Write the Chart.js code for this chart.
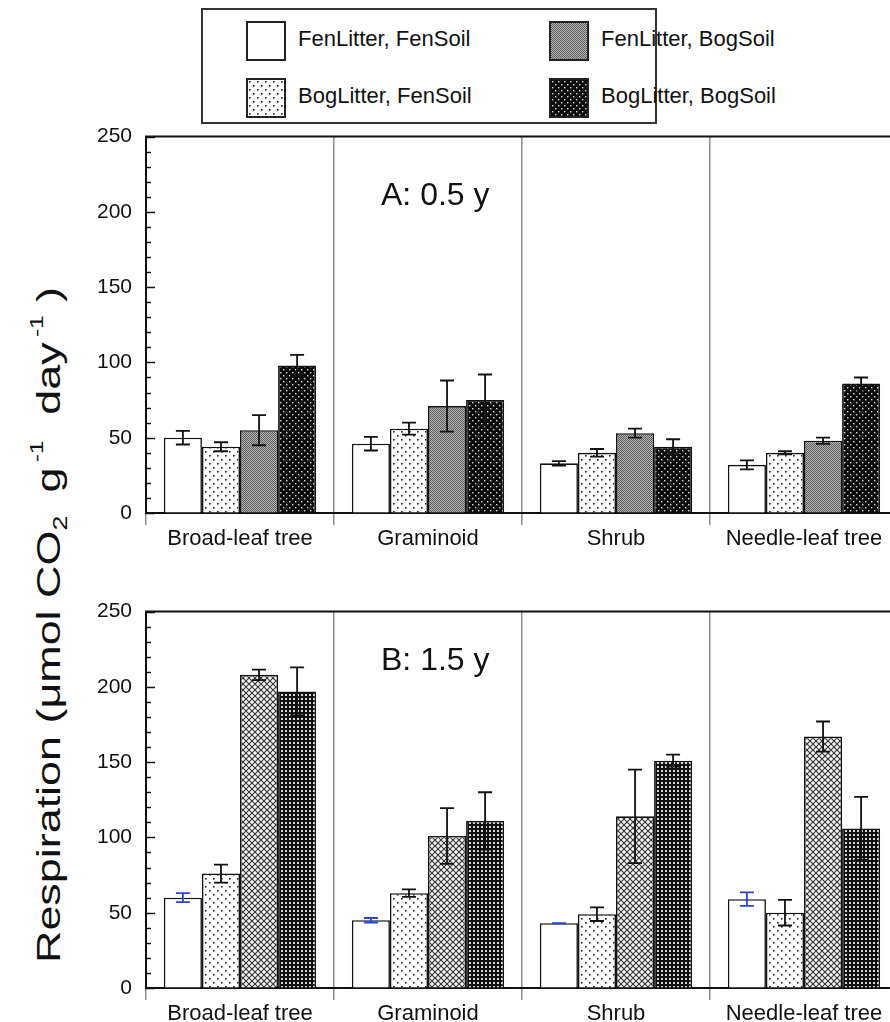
<!DOCTYPE html>
<html>
<head>
<meta charset="utf-8">
<script src="https://cdn.jsdelivr.net/npm/chart.js@4/dist/chart.umd.min.js"></script>
<style>
  html, body { margin: 0; padding: 0; width: 890px; height: 1022px; overflow: hidden; background: #fff; }
  body { position: relative; font-family: "Liberation Sans", Arial, sans-serif; color: #111; }
  canvas.panel { position: absolute; left: 0; }
  #leyenda { position: absolute; left: 201px; top: 8px; width: 452px; height: 112px; border: 2px solid #333; }
  .item { position: absolute; font-size: 22px; line-height: 36px; white-space: nowrap; }
  .item canvas { position: absolute; left: 0; top: 0; border: 2px solid #222; box-sizing: border-box; }
  .item span { position: absolute; left: 52px; top: 0; }
  #ytitle { position: absolute; left: 49px; top: 625px; transform: translate(-50%, -50%) rotate(-90deg) scaleX(1.32);
            white-space: nowrap; font-size: 34px; }
  #ytitle sup { font-size: 0.55em; vertical-align: 0.9em; margin-left: 4px; margin-right: 10px; }
  #ytitle sub { font-size: 0.6em; vertical-align: -0.35em; margin-right: 8px; }
</style>
</head>
<body>
<div id="leyenda"></div>
<div id="ytitle">Respiration (μmol CO<sub>2</sub> g<sup>-1</sup> day<sup>-1</sup>)</div>
<canvas id="panelA" class="panel" width="910" height="451" style="top:110px"></canvas>
<canvas id="panelB" class="panel" width="910" height="451" style="top:585px"></canvas>
<script>
// datos
const categorias = ["Broad-leaf tree", "Graminoid", "Shrub", "Needle-leaf tree"];
const series = ["FenLitter, FenSoil", "BogLitter, FenSoil", "FenLitter, BogSoil", "BogLitter, BogSoil"];
const ticksY = [0, 50, 100, 150, 200, 250];

// A: 0.5 y
const fenFenA = [50, 46, 33, 32];
const bogFenA = [44, 56, 40, 40];
const fenBogA = [55, 71, 53, 48];
const bogBogA = [98, 75, 44, 86];
const fenFenAErr = [4.5, 4.5, 1.5, 3];
const bogFenAErr = [3, 4, 2.5, 1];
const fenBogAErr = [10, 17, 3, 2];
const bogBogAErr = [7, 17, 5, 4];

// B: 1.5 y
const fenFenB = [60, 45, 43, 59];
const bogFenB = [76, 63, 49, 50];
const fenBogB = [208, 101, 114, 167];
const bogBogB = [197, 111, 151, 106];
const fenFenBErr = [3, 1.5, 0, 4.5];
const bogFenBErr = [6, 2.5, 4.5, 8.5];
const fenBogBErr = [3.5, 18.5, 31, 10];
const bogBogBErr = [16, 19, 4, 21];

Chart.defaults.font.family = '"Liberation Sans", Arial, sans-serif';
Chart.defaults.color = "#111";

// tramas de relleno
function trama(tipo) {
  const c = document.createElement("canvas");
  let ctx;
  if (tipo === "blanco") return "#ffffff";
  if (tipo === "puntos") {
    c.width = c.height = 8; ctx = c.getContext("2d");
    ctx.fillStyle = "#fff"; ctx.fillRect(0, 0, 8, 8);
    ctx.fillStyle = "#222"; ctx.fillRect(1, 1, 1.6, 1.6); ctx.fillRect(5, 5, 1.6, 1.6);
  } else if (tipo === "gris") {
    c.width = c.height = 2; ctx = c.getContext("2d");
    ctx.fillStyle = "#b8b8b8"; ctx.fillRect(0, 0, 2, 2);
    ctx.fillStyle = "#5a5a5a"; ctx.fillRect(0, 0, 1, 1); ctx.fillRect(1, 1, 1, 1);
  } else if (tipo === "negroPuntos") {
    c.width = c.height = 6; ctx = c.getContext("2d");
    ctx.fillStyle = "#0a0a0a"; ctx.fillRect(0, 0, 6, 6);
    ctx.fillStyle = "#ddd"; ctx.fillRect(1, 1, 1.4, 1.4); ctx.fillRect(4, 4, 1.4, 1.4);
  } else if (tipo === "rombos") {
    c.width = c.height = 6; ctx = c.getContext("2d");
    ctx.fillStyle = "#f4f4f4"; ctx.fillRect(0, 0, 6, 6);
    ctx.strokeStyle = "#333"; ctx.lineWidth = 1.1;
    ctx.beginPath();
    ctx.moveTo(-1, -1); ctx.lineTo(7, 7);
    ctx.moveTo(7, -1); ctx.lineTo(-1, 7);
    ctx.stroke();
  } else if (tipo === "rejilla") {
    c.width = c.height = 4; ctx = c.getContext("2d");
    ctx.fillStyle = "#111"; ctx.fillRect(0, 0, 4, 4);
    ctx.fillStyle = "#d8d8d8"; ctx.fillRect(1, 1, 2, 2);
  }
  return document.createElement("canvas").getContext("2d").createPattern(c, "repeat");
}

// barras de error
const barrasError = {
  id: "barrasError",
  afterDatasetsDraw(chart) {
    const ctx = chart.ctx;
    const y = chart.scales.y;
    chart.data.datasets.forEach((ds, i) => {
      const meta = chart.getDatasetMeta(i);
      meta.data.forEach((bar, j) => {
        const v = ds.data[j], e = ds.errores[j];
        const top = y.getPixelForValue(v + e), bot = y.getPixelForValue(v - e);
        ctx.save();
        ctx.strokeStyle = ds.colorError;
        ctx.lineWidth = 1.8;
        ctx.beginPath();
        ctx.moveTo(bar.x, top); ctx.lineTo(bar.x, bot);
        ctx.moveTo(bar.x - 7, top); ctx.lineTo(bar.x + 7, top);
        ctx.moveTo(bar.x - 7, bot); ctx.lineTo(bar.x + 7, bot);
        ctx.stroke();
        ctx.restore();
      });
    });
  }
};

// marco superior, marcas menores hacia dentro y etiqueta del panel
const marco = {
  id: "marco",
  afterDraw(chart, args, opts) {
    const ctx = chart.ctx, a = chart.chartArea, y = chart.scales.y;
    ctx.save();
    ctx.strokeStyle = "#111";
    ctx.lineWidth = 2;
    ctx.beginPath();
    ctx.moveTo(a.left - 1, a.top); ctx.lineTo(a.right, a.top);
    ctx.stroke();
    ctx.lineWidth = 1.3;
    ctx.beginPath();
    for (let v = 0; v <= 250; v += 10) {
      const py = Math.round(y.getPixelForValue(v)) + 0.5;
      const len = v % 50 === 0 ? 9 : 5;
      ctx.moveTo(a.left, py); ctx.lineTo(a.left + len, py);
    }
    ctx.stroke();
    ctx.fillStyle = "#111";
    ctx.font = '32px "Liberation Sans", Arial, sans-serif';
    ctx.textBaseline = "alphabetic";
    ctx.fillText(opts.texto, a.left + opts.dx, a.top + opts.dy);
    ctx.restore();
  }
};

const rellenosA = [trama("blanco"), trama("puntos"), trama("gris"), trama("negroPuntos")];
const rellenosB = [trama("blanco"), trama("puntos"), trama("rombos"), trama("rejilla")];

function pintarPanel(id, valores, errores, rellenos, colorErr0, texto, dy) {
  const ctx = document.getElementById(id).getContext("2d");
  new Chart(ctx, {
    type: "bar",
    data: {
      labels: categorias,
      datasets: series.map((nombre, i) => ({
        label: nombre,
        data: valores[i],
        errores: errores[i],
        colorError: i === 0 ? colorErr0 : "#111",
        backgroundColor: rellenos[i],
        borderColor: "#111",
        borderWidth: 1.6,
        categoryPercentage: 0.81,
        barPercentage: 1.0
      }))
    },
    options: {
      responsive: false,
      animation: false,
      devicePixelRatio: 1,
      layout: { padding: { top: 0, right: 12, left: 0, bottom: 0 } },
      plugins: {
        legend: { display: false },
        tooltip: { enabled: false },
        marco: { texto: texto, dx: 235, dy: dy }
      },
      scales: {
        x: {
          grid: { color: "#8a8a8a", lineWidth: 1.5, offset: true, drawTicks: true, tickLength: 12 },
          border: { color: "#111", width: 2 },
          ticks: { font: { size: 22 }, color: "#111", padding: 1, maxRotation: 0 },
          afterFit: (s) => { s.height = 48; }
        },
        y: {
          min: 0,
          max: 250,
          afterBuildTicks: (s) => { s.ticks = ticksY.map((v) => ({ value: v })); },
          ticks: { font: { size: 21 }, color: "#111", padding: 14 },
          grid: { drawOnChartArea: false, drawTicks: false },
          border: { color: "#111", width: 2 },
          afterFit: (s) => { s.width = 146; }
        }
      }
    },
    plugins: [barrasError, marco]
  });
}

pintarPanel("panelA",
  [fenFenA, bogFenA, fenBogA, bogBogA],
  [fenFenAErr, bogFenAErr, fenBogAErr, bogBogAErr],
  rellenosA, "#111", "A: 0.5 y", 68);

pintarPanel("panelB",
  [fenFenB, bogFenB, fenBogB, bogBogB],
  [fenFenBErr, bogFenBErr, fenBogBErr, bogBogBErr],
  rellenosB, "#2a44d8", "B: 1.5 y", 58);

// leyenda en recuadro (orden por columnas como en la figura)
const leyenda = document.getElementById("leyenda");
const posiciones = [[43, 11], [43, 68], [346, 11], [346, 68]];
series.forEach((nombre, i) => {
  const div = document.createElement("div");
  div.className = "item";
  div.style.left = posiciones[i][0] + "px";
  div.style.top = posiciones[i][1] + "px";
  const sw = document.createElement("canvas");
  sw.width = 36; sw.height = 36;
  const c = sw.getContext("2d");
  c.fillStyle = rellenosA[i];
  c.fillRect(0, 0, 36, 36);
  const sp = document.createElement("span");
  sp.textContent = nombre;
  div.appendChild(sw);
  div.appendChild(sp);
  leyenda.appendChild(div);
});
</script>
</body>
</html>
